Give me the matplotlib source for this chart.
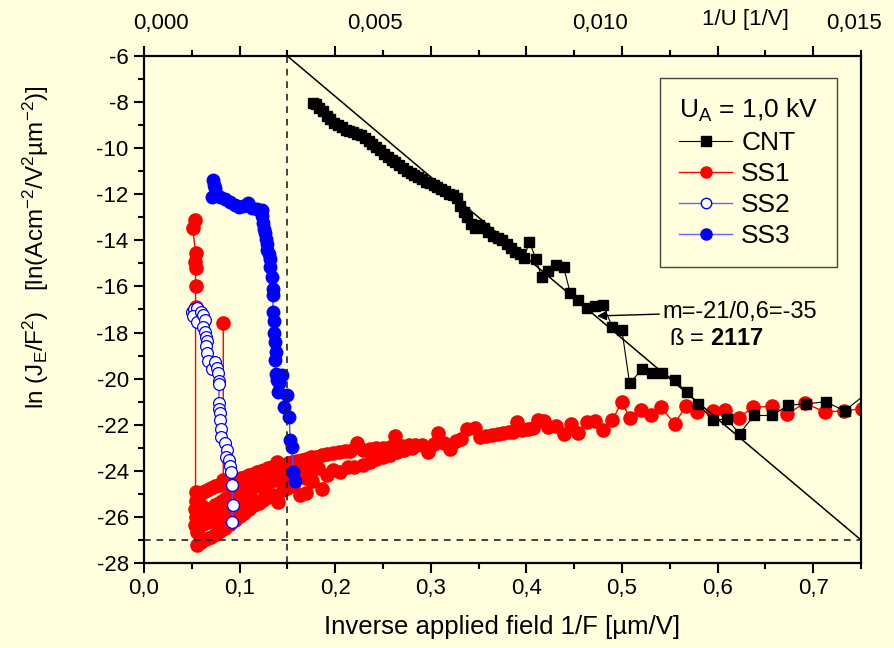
import numpy as np
import matplotlib
matplotlib.use('Agg')
import matplotlib.pyplot as plt
from matplotlib.ticker import MultipleLocator, FuncFormatter
from matplotlib.lines import Line2D

plt.rcParams['font.family'] = ['Liberation Sans', 'DejaVu Sans']
plt.rcParams['mathtext.fontset'] = 'custom'
plt.rcParams['mathtext.rm'] = 'Liberation Sans'
plt.rcParams['mathtext.it'] = 'Liberation Sans:italic'
plt.rcParams['mathtext.bf'] = 'Liberation Sans:bold'
plt.rcParams['mathtext.default'] = 'regular'
plt.rcParams['axes.unicode_minus'] = False

# CNT (black squares)
cnt_x = [0.177, 0.180, 0.183, 0.187, 0.191, 0.195, 0.199, 0.203, 0.207, 0.211,
         0.215, 0.219, 0.223, 0.227, 0.231, 0.235, 0.239, 0.243, 0.247, 0.251,
         0.255, 0.259, 0.263, 0.267, 0.271, 0.275, 0.279, 0.283, 0.287, 0.291,
         0.295, 0.299, 0.303, 0.307, 0.311, 0.315, 0.319, 0.323, 0.327, 0.331,
         0.335, 0.338, 0.342, 0.346, 0.351, 0.356, 0.360, 0.365, 0.370, 0.375,
         0.380, 0.384, 0.388, 0.393, 0.398, 0.403, 0.410, 0.416, 0.423, 0.431,
         0.439, 0.446, 0.454, 0.463, 0.472, 0.480, 0.490, 0.500, 0.508, 0.521,
         0.531, 0.542, 0.555, 0.568, 0.580, 0.595, 0.610, 0.623, 0.638, 0.657,
         0.674, 0.693, 0.713, 0.733, 0.760]
cnt_y = [-8.05, -8.10, -8.25, -8.40, -8.60, -8.75, -8.90, -9.00, -9.10, -9.20,
         -9.25, -9.30, -9.38, -9.45, -9.55, -9.68, -9.80, -9.95, -10.10, -10.25,
         -10.38, -10.50, -10.62, -10.75, -10.85, -10.98, -11.08, -11.18, -11.27, -11.35,
         -11.45, -11.52, -11.60, -11.68, -11.78, -11.88, -11.97, -12.05, -12.18, -12.50,
         -12.75, -13.00, -13.30, -13.45, -13.35, -13.45, -13.65, -13.80, -13.88, -14.00,
         -14.15, -14.35, -14.50, -14.60, -14.75, -14.05, -14.80, -15.60, -15.35, -15.05,
         -15.15, -16.30, -16.60, -16.95, -16.85, -16.80, -17.75, -17.90, -20.20, -19.60,
         -19.75, -19.75, -20.05, -20.60, -21.10, -21.80, -21.75, -22.40, -21.60, -21.60,
         -21.15, -21.10, -21.00, -21.40, -20.50]

# SS1 (red filled circles) - several sweeps separated by nan
ss1_x = [0.053, 0.051, 0.054, 0.053, 0.054, 0.054, 0.054, 0.054,
         0.058, 0.062, 0.066, 0.070, 0.074, 0.078, 0.082, 0.086, 0.090, 0.094,
         0.098, 0.102, 0.106, 0.110, 0.114, 0.118, 0.122, 0.126, 0.130, 0.134,
         0.139, 0.143, 0.147, 0.151, 0.155, 0.160, 0.165, 0.170, 0.175, 0.180,
         0.186, 0.192, 0.198, 0.204, 0.210, 0.216, 0.223, 0.229, 0.236, 0.243,
         0.250, 0.257, 0.263, 0.270, 0.277, 0.284, 0.291, 0.297, 0.303, 0.308,
         0.314, 0.320, 0.326, 0.332, 0.338, 0.346, 0.352, 0.358, 0.364, 0.370,
         0.376, 0.382, 0.386, 0.390, 0.395, 0.402, 0.407, 0.412, 0.418, 0.423,
         0.431, 0.439, 0.447, 0.454, 0.463, 0.472, 0.480, 0.490, 0.500, 0.508,
         0.520, 0.530, 0.541, 0.555, 0.567, 0.579, 0.595, 0.608, 0.622, 0.637,
         0.657, 0.673, 0.691, 0.712, 0.732, 0.751,
         np.nan,
         0.054, 0.053, 0.054, 0.053, 0.055, 0.055, 0.060, 0.065, 0.070, 0.075,
         0.080, 0.085, 0.090, 0.095, 0.100, 0.105, 0.110, 0.115, 0.120, 0.125,
         0.130, 0.135, 0.140, 0.145, 0.150, 0.156, 0.163, 0.170, 0.176, 0.186,
         0.192, 0.198, 0.205, 0.213, 0.220, 0.229, 0.236, 0.243, 0.250, 0.257,
         0.265, 0.272, 0.280,
         np.nan,
         0.058, 0.062, 0.066, 0.070, 0.074, 0.078, 0.082, 0.086, 0.090, 0.094,
         0.098, 0.102, 0.106, 0.110, 0.114, 0.118, 0.122, 0.127, 0.132, 0.137,
         0.142, 0.148, 0.154, 0.160, 0.166, 0.170, 0.176, 0.182,
         np.nan,
         0.057, 0.062, 0.067, 0.072, 0.077, 0.082, 0.087, 0.092, 0.097, 0.102,
         0.107, 0.112,
         np.nan,
         0.083, 0.083]
ss1_y = [-13.10, -13.45, -14.55, -14.95, -15.20, -15.98, -16.90, -24.90,
         -24.95, -24.90, -24.82, -24.75, -24.68, -24.62, -24.58, -24.52, -24.48, -24.44,
         -24.40, -24.32, -24.25, -24.18, -24.12, -24.06, -24.00, -23.95, -23.90, -23.85,
         -23.60, -23.78, -23.73, -23.68, -23.63, -23.58, -23.52, -23.47, -23.42, -23.38,
         -23.33, -23.27, -23.22, -23.18, -23.15, -23.12, -22.80, -23.08, -23.05, -23.02,
         -23.00, -22.97, -22.50, -22.93, -22.90, -22.88, -22.86, -23.20, -22.83, -22.36,
         -22.78, -23.05, -22.70, -22.62, -22.20, -22.14, -22.55, -22.50, -22.46, -22.42,
         -22.38, -22.33, -22.30, -21.90, -22.25, -22.20, -22.15, -21.80, -21.85, -22.10,
         -22.05, -22.40, -21.95, -22.35, -21.90, -21.85, -22.25, -21.80, -21.00, -21.70,
         -21.35, -21.60, -21.25, -21.95, -21.20, -21.45, -21.40, -21.35, -21.70, -21.25,
         -21.20, -21.55, -21.05, -21.45, -21.40, -21.30,
         np.nan,
         -25.30, -25.65, -26.00, -26.35, -26.65, -27.20, -27.10, -26.98, -26.88, -26.75,
         -26.62, -26.48, -26.32, -26.15, -25.98, -25.82, -25.65, -25.50, -25.38, -25.26,
         -25.15, -25.05, -25.35, -24.85, -24.75, -24.65, -25.05, -24.96, -24.45, -24.79,
         -24.20, -23.96, -24.05, -23.83, -23.85, -23.74, -23.60, -23.50, -23.40, -23.30,
         -23.20, -23.10, -23.00,
         np.nan,
         -25.40, -25.55, -25.75, -25.65, -25.50, -25.40, -25.30, -25.20, -25.10, -25.05,
         -24.95, -24.85, -24.80, -24.72, -24.65, -24.60, -24.55, -24.90, -24.45, -24.40,
         -24.35, -24.28, -24.20, -24.12, -24.05, -24.30, -23.95, -23.88,
         np.nan,
         -26.15, -26.30, -26.22, -26.12, -26.02, -25.92, -25.80, -25.66, -25.52, -25.40,
         -25.28, -25.15,
         np.nan,
         -17.60, -24.40]

# SS2 (open circles)
ss2_x = [0.050, 0.052, 0.056, 0.051, 0.055, 0.060, 0.062, 0.064, 0.062, 0.064,
         0.065, 0.066, 0.065, 0.066, 0.067, 0.071, 0.074, 0.076, 0.077, 0.078,
         0.079, 0.078, 0.079, 0.080, 0.080, 0.081, 0.081, 0.085, 0.087, 0.086,
         0.089, 0.090, 0.091, 0.092, 0.093, 0.092]
ss2_y = [-17.10, -17.00, -16.95, -17.30, -17.55, -17.10, -17.25, -17.45, -17.75, -17.97,
         -18.20, -18.35, -18.60, -18.90, -19.25, -19.60, -19.30, -19.55, -19.75, -20.10,
         -20.25, -21.05, -21.30, -21.50, -21.80, -22.20, -22.55, -22.80, -23.10, -23.40,
         -23.55, -23.80, -24.05, -24.60, -25.50, -26.20]

# SS3 (blue filled circles)
ss3_x = [0.072, 0.073, 0.074, 0.071, 0.076, 0.080, 0.085, 0.090, 0.095, 0.099,
         0.104, 0.109, 0.113, 0.118, 0.123, 0.124, 0.125, 0.126, 0.127, 0.128,
         0.129, 0.129, 0.131, 0.132, 0.132, 0.134, 0.135, 0.135, 0.135, 0.136,
         0.136, 0.137, 0.138, 0.137, 0.138, 0.144, 0.139, 0.141, 0.140, 0.150,
         0.146, 0.152, 0.153, 0.155, 0.156, 0.158]
ss3_y = [-11.38, -11.60, -11.75, -12.10, -12.05, -12.10, -12.22, -12.32, -12.45, -12.55,
         -12.50, -12.38, -12.60, -12.62, -12.68, -12.95, -13.25, -13.50, -13.70, -13.95,
         -14.15, -14.40, -14.60, -14.80, -15.15, -15.60, -16.10, -16.35, -17.10, -17.50,
         -18.00, -18.40, -18.85, -19.20, -19.80, -19.85, -20.05, -20.20, -20.60, -20.70,
         -21.25, -21.65, -22.65, -22.95, -24.05, -24.45]

# fit line and guide lines
fit_x = [0.15, 0.75]
fit_y = [-6, -27]
guide_x = 0.15
guide_y = -27

top_labels = ['0,000', '0,005', '0,010', '0,015']
top_label_pos = [0.018, 0.2416, 0.477, 0.743]

bg = '#FFFFDE'
fig = plt.figure(figsize=(8.94, 6.48), dpi=100, facecolor=bg)
ax = fig.add_axes([0.161, 0.1312, 0.802, 0.7824], facecolor=bg)

blue_line = '#4d4dff'
ax.plot(ss1_x, ss1_y, '-', color='red', lw=1, marker='o', ms=9.5,
        mfc='red', mec='red', zorder=2)
ax.plot(ss3_x, ss3_y, '-', color=blue_line, lw=1, marker='o', ms=9,
        mfc='#0000ff', mec='#0000ff', zorder=3)
ax.plot(ss2_x, ss2_y, '-', color=blue_line, lw=1, marker='o', ms=8.5,
        mfc='white', mec='#0000ff', mew=0.9, zorder=4)
ax.plot(cnt_x, cnt_y, '-', color='black', lw=0.8, marker='s', ms=7.5,
        mfc='black', mec='black', zorder=4)

ax.plot(fit_x, fit_y, '-', color='black', lw=1.1, zorder=5)
ax.axvline(guide_x, color='#222222', lw=1.2, ls=(0, (4, 3.5)), zorder=6)
ax.axhline(guide_y, color='#222222', lw=1.2, ls=(0, (4, 3.5)), zorder=6)

ax.set_xlim(0, 0.75)
ax.set_ylim(-28, -6)
ax.xaxis.set_major_locator(MultipleLocator(0.1))
ax.xaxis.set_minor_locator(MultipleLocator(0.05))
ax.yaxis.set_major_locator(MultipleLocator(2))
ax.yaxis.set_minor_locator(MultipleLocator(1))
ax.xaxis.set_major_formatter(FuncFormatter(lambda v, p: f'{v:.1f}'.replace('.', ',')))
ax.yaxis.set_major_formatter(FuncFormatter(lambda v, p: f'{v:.0f}'))

for s in ax.spines.values():
    s.set_linewidth(1.6)
ax.tick_params(which='both', direction='out', width=1.5, labelsize=16,
               top=True, right=False, labeltop=False)
ax.tick_params(which='major', length=7, pad=4)
ax.tick_params(which='minor', length=4)

ax.set_xlabel('Inverse applied field 1/F [µm/V]', fontsize=18.5, labelpad=11)
ax.set_ylabel(r'ln (J$_E$/F$^2$)   [ln(Acm$^{-2}$/V$^2$µm$^{-2}$)]', fontsize=17.5)
ax.yaxis.set_label_coords(-0.13, 0.623)

for lab, pos in zip(top_labels, top_label_pos):
    ax.text(pos, 1.065, lab, transform=ax.get_xaxis_transform(), ha='center',
            va='center', fontsize=16)
ax.text(0.629, 1.072, '1/U [1/V]', transform=ax.get_xaxis_transform(),
        ha='center', va='center', fontsize=16)

ax.annotate('m=-21/0,6=-35', xy=(0.474, -17.28), xytext=(0.542, -17.1),
            fontsize=17, va='center', ha='left',
            arrowprops=dict(arrowstyle='-|>', color='black', lw=1,
                            mutation_scale=14, shrinkA=0, shrinkB=0))
ax.text(0.549, -18.3, r'ß = $\mathbf{2117}$', fontsize=17, va='center', ha='left')

handles = [
    Line2D([], [], color='black', lw=0.8, marker='s', ms=7, mfc='black', mec='black'),
    Line2D([], [], color='red', lw=1, marker='o', ms=8, mfc='red', mec='red'),
    Line2D([], [], color='#6666ff', lw=1, marker='o', ms=7.5, mfc='white', mec='#0000ff'),
    Line2D([], [], color='#6666ff', lw=1, marker='o', ms=8, mfc='#0000ff', mec='#0000ff'),
]
leg = ax.legend(handles, ['CNT', 'SS1', 'SS2', 'SS3'], title=r'U$_A$ = 1,0 kV',
                loc='upper left', bbox_to_anchor=(0.72, 0.957), fontsize=19,
                title_fontsize=19, frameon=True, fancybox=False, framealpha=1,
                facecolor=bg, edgecolor='#444444', handlelength=2.0,
                handletextpad=0.35, labelspacing=0.27, borderpad=0.72,
                borderaxespad=0, alignment='left')
leg.get_frame().set_linewidth(1)

fig.savefig('out.png', dpi=100, facecolor=bg)
